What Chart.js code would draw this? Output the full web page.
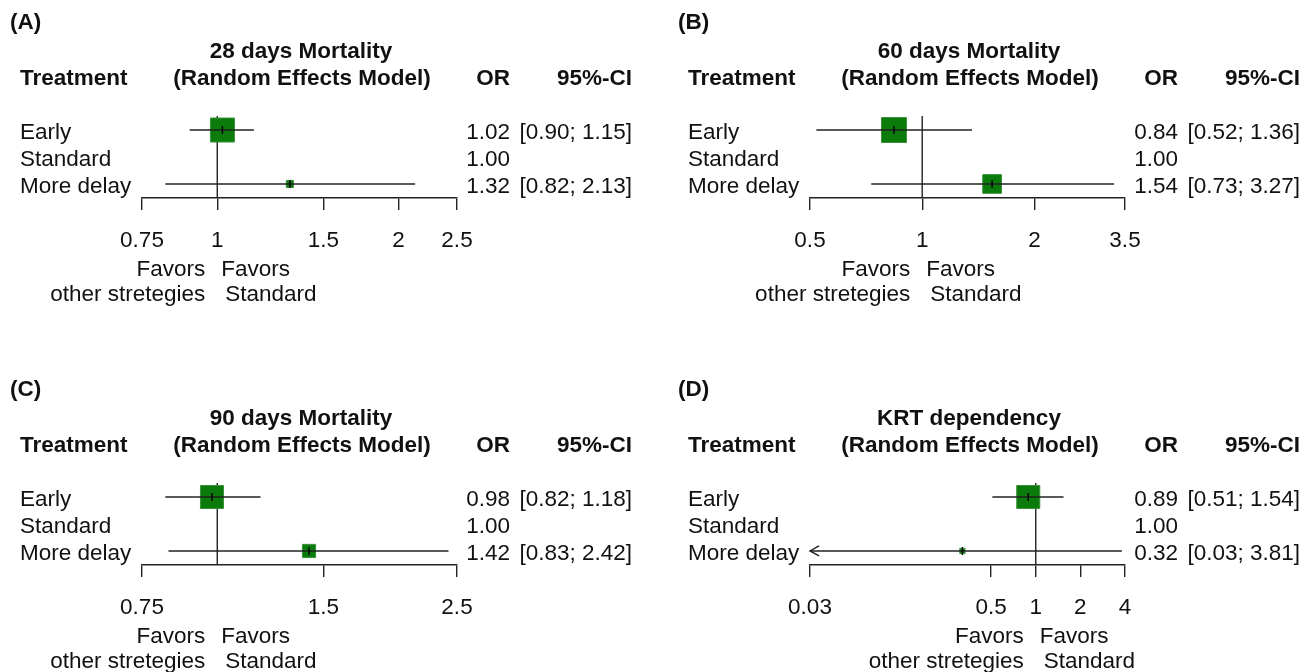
<!DOCTYPE html>
<html>
<head>
<meta charset="utf-8">
<script src="https://cdn.jsdelivr.net/npm/chart.js@4.4.1/dist/chart.umd.min.js"></script>
<style>
  html, body { margin: 0; padding: 0; background: #fff; width: 1313px; height: 672px; overflow: hidden; }
  .panel { position: absolute; width: 645px; height: 336px; }
</style>
</head>
<body>
<div class="panel" style="left:0px;top:0px"><canvas id="cA" width="645" height="336"></canvas></div>
<div class="panel" style="left:668px;top:0px"><canvas id="cB" width="645" height="336"></canvas></div>
<div class="panel" style="left:0px;top:367px"><canvas id="cC" width="645" height="336"></canvas></div>
<div class="panel" style="left:668px;top:367px"><canvas id="cD" width="645" height="336"></canvas></div>
<script>
// ---------- data ----------
const rowLabels = ['Early', 'Standard', 'More delay'];
const refValue = 1;
const subTitle = '(Random Effects Model)';
const leftLabel = ['Favors', 'other stretegies'];
const rightLabel = ['Favors', 'Standard'];

const letterA = '(A)';
const titleA = '28 days Mortality';
const orA = [1.02, 1.00, 1.32];
const lowA = [0.90, null, 0.82];
const highA = [1.15, null, 2.13];
const weightA = [1.0, null, 0.3];
const ticksA = [0.75, 1, 1.5, 2, 2.5];
const tickLabelsA = ['0.75', '1', '1.5', '2', '2.5'];

const letterB = '(B)';
const titleB = '60 days Mortality';
const orB = [0.84, 1.00, 1.54];
const lowB = [0.52, null, 0.73];
const highB = [1.36, null, 3.27];
const weightB = [1.04, null, 0.78];
const ticksB = [0.5, 1, 2, 3.5];
const tickLabelsB = ['0.5', '1', '2', '3.5'];

const letterC = '(C)';
const titleC = '90 days Mortality';
const orC = [0.98, 1.00, 1.42];
const lowC = [0.82, null, 0.83];
const highC = [1.18, null, 2.42];
const weightC = [0.96, null, 0.55];
const ticksC = [0.75, 1.5, 2.5];
const tickLabelsC = ['0.75', '1.5', '2.5'];

const letterD = '(D)';
const titleD = 'KRT dependency';
const orD = [0.89, 1.00, 0.32];
const lowD = [0.51, null, 0.03];
const highD = [1.54, null, 3.81];
const weightD = [0.96, null, 0.22];
const ticksD = [0.03, 0.5, 1, 2, 4];
const tickLabelsD = ['0.03', '0.5', '1', '2', '4'];

// ---------- style ----------
const FONT = '"Liberation Sans", Arial, Helvetica, sans-serif';
const FS = 22.5;
const TEXT = '#111';
const LINE = '#222';
const SQUARE = '#0b7b0b';
const SQUARE_BORDER = '#3a913a';
const MAX_SIDE = 24;
const W = 645, H = 336;
const AX_L = 142, AX_R = 457, AX_Y = 198;
const OR_RIGHT = 510, CI_RIGHT = 632;

function fmt(v) { return v.toFixed(2); }

const textPlugin = {
  id: 'forestText',
  afterDraw(chart) {
    const p = chart.options.plugins.forestText;
    const ctx = chart.ctx;
    const xs = chart.scales.x, ys = chart.scales.y;
    ctx.save();
    ctx.fillStyle = TEXT;
    ctx.textBaseline = 'alphabetic';
    // panel letter
    ctx.font = 'bold ' + FS + 'px ' + FONT;
    ctx.textAlign = 'left';
    ctx.fillText(p.letter, 10, 29);
    // title lines
    ctx.textAlign = 'center';
    ctx.fillText(p.title, 301, 58);
    ctx.fillText(subTitle, 302, 85);
    // headers
    ctx.textAlign = 'left';
    ctx.fillText('Treatment', 20, 85);
    ctx.textAlign = 'right';
    ctx.fillText('OR', OR_RIGHT, 85);
    ctx.fillText('95%-CI', CI_RIGHT, 85);
    // rows
    ctx.font = FS + 'px ' + FONT;
    rowLabels.forEach((lab, i) => {
      const yb = ys.getPixelForValue(i + 1) + 9;
      ctx.textAlign = 'left';
      ctx.fillText(lab, 20, yb);
      ctx.textAlign = 'right';
      ctx.fillText(fmt(p.or[i]), OR_RIGHT, yb);
      if (p.low[i] !== null) {
        ctx.fillText('[' + fmt(p.low[i]) + '; ' + fmt(p.high[i]) + ']', CI_RIGHT, yb);
      }
    });
    // favours labels
    const rx = xs.getPixelForValue(refValue);
    ctx.textAlign = 'right';
    ctx.fillText(leftLabel[0], rx - 12, 276);
    ctx.fillText(leftLabel[1], rx - 12, 301);
    ctx.textAlign = 'left';
    ctx.fillText(rightLabel[0], rx + 4, 276);
    ctx.fillText(rightLabel[1], rx + 8, 301);
    // arrows for CIs truncated at axis limits
    ctx.strokeStyle = LINE;
    ctx.lineWidth = 1.4;
    p.low.forEach((lo, i) => {
      if (lo === null) return;
      const yy = ys.getPixelForValue(i + 1);
      if (lo <= xs.min) {
        const ax = xs.getPixelForValue(xs.min);
        ctx.beginPath();
        ctx.moveTo(ax + 9, yy - 5);
        ctx.lineTo(ax, yy);
        ctx.lineTo(ax + 9, yy + 5);
        ctx.stroke();
      }
    });
    ctx.restore();
  }
};

function makePanel(id, letter, title, or, low, high, weight, ticks, tickLabels) {
  const xmin = ticks[0], xmax = ticks[ticks.length - 1];
  const est = or.map((v, i) => low[i] === null ? null : { x: v, y: i + 1 }).filter(d => d);
  const sides = weight.filter(w => w !== null).map(w => MAX_SIDE * w);
  const datasets = [];
  // estimate tick marks (on top)
  datasets.push({
    type: 'scatter', data: est,
    pointStyle: 'line', rotation: 90, radius: 4,
    borderColor: '#000', borderWidth: 1.4, backgroundColor: '#000'
  });
  // CI lines
  or.forEach((v, i) => {
    if (low[i] === null) return;
    datasets.push({
      type: 'scatter', showLine: true,
      data: [{ x: Math.max(low[i], xmin), y: i + 1 }, { x: Math.min(high[i], xmax), y: i + 1 }],
      borderColor: LINE, borderWidth: 1.4, pointRadius: 0
    });
  });
  // squares
  datasets.push({
    type: 'scatter', data: est,
    pointStyle: 'rect',
    pointRadius: sides.map(s => s / Math.SQRT2),
    backgroundColor: SQUARE, borderColor: SQUARE_BORDER, borderWidth: 1
  });
  // reference line
  datasets.push({
    type: 'scatter', showLine: true,
    data: [{ x: refValue, y: 0.48 }, { x: refValue, y: 3.52 }],
    borderColor: LINE, borderWidth: 1.4, pointRadius: 0
  });

  return new Chart(document.getElementById(id), {
    type: 'scatter',
    data: { datasets },
    plugins: [textPlugin],
    options: {
      responsive: false,
      animation: false,
      devicePixelRatio: 1,
      layout: { padding: { left: AX_L, right: W - AX_R, top: 116, bottom: 0 } },
      plugins: {
        legend: { display: false },
        tooltip: { enabled: false },
        forestText: { letter, title, or, low, high }
      },
      scales: {
        x: {
          type: 'logarithmic', min: xmin, max: xmax, position: 'bottom',
          afterBuildTicks: s => { s.ticks = ticks.map(v => ({ value: v })); },
          afterFit: s => { s.height = H - AX_Y; },
          ticks: {
            callback: (v, i) => tickLabels[i],
            font: { family: FONT, size: FS }, color: TEXT,
            padding: 17, maxRotation: 0, autoSkip: false
          },
          grid: { drawOnChartArea: false, drawTicks: true, tickLength: 12, color: LINE, lineWidth: 1.4 },
          border: { display: true, color: LINE, width: 1.4 }
        },
        y: { type: 'linear', min: 0.48, max: 3.52, reverse: true, display: false }
      }
    }
  });
}

makePanel('cA', letterA, titleA, orA, lowA, highA, weightA, ticksA, tickLabelsA);
makePanel('cB', letterB, titleB, orB, lowB, highB, weightB, ticksB, tickLabelsB);
makePanel('cC', letterC, titleC, orC, lowC, highC, weightC, ticksC, tickLabelsC);
makePanel('cD', letterD, titleD, orD, lowD, highD, weightD, ticksD, tickLabelsD);
</script>
</body>
</html>
